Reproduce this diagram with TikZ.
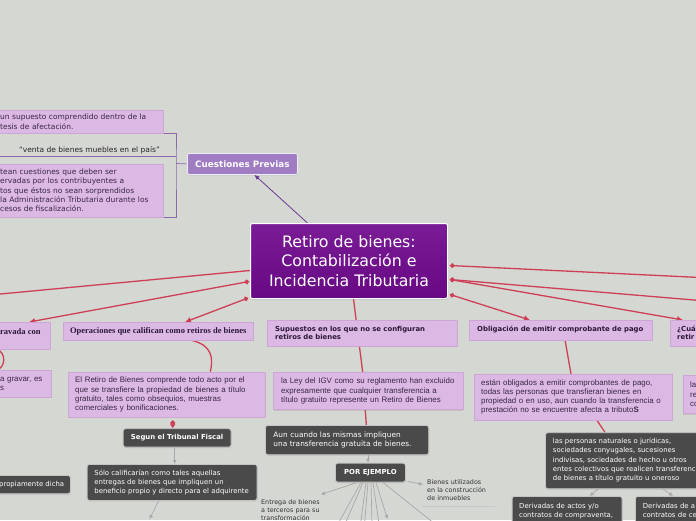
\documentclass[tikz,border=0pt]{standalone}
\usepackage{fontspec}
\setmainfont{DejaVu Sans}
\newfontfamily\arialf{Liberation Sans}
\newfontfamily\serifb{Liberation Serif}
\usetikzlibrary{arrows.meta,shadows}
\pgfdeclarelayer{bgl}\pgfdeclarelayer{lines}\pgfsetlayers{bgl,lines,main}
\definecolor{bgc}{HTML}{D5D7D3}
\definecolor{pinkc}{HTML}{DCB9E4}
\definecolor{pinkd}{HTML}{CDA6D6}
\definecolor{pkt}{HTML}{3A2645}
\definecolor{hdt}{HTML}{2B1838}
\definecolor{redc}{HTML}{CF3F55}
\definecolor{brkc}{HTML}{8C68AC}
\definecolor{pcl}{HTML}{6A3A94}
\definecolor{grayc}{HTML}{A8A8A8}
\definecolor{darkc}{HTML}{4A4A4A}
\definecolor{darkd}{HTML}{C4C4C4}
\definecolor{cpc}{HTML}{A07DC3}
\definecolor{cenT}{HTML}{7A1C96}
\definecolor{cenB}{HTML}{680884}
\newcommand\fcen{\fontsize{15.8}{19.6}\selectfont}
\newcommand\fcp{\bfseries\fontsize{8.8}{10}\selectfont}
\newcommand\fvt{\fontsize{7.5}{9.4}\selectfont}
\newcommand\fpk{\arialf\fontsize{7.9}{9.1}\selectfont}
\newcommand\fhs{\serifb\bfseries\fontsize{8.5}{10}\selectfont}
\newcommand\fhb{\bfseries\fontsize{6.9}{8.4}\selectfont}
\newcommand\fdk{\fontsize{6.9}{9.1}\selectfont}
\newcommand\fdb{\bfseries\fontsize{6.9}{8.4}\selectfont}
\newcommand\fsm{\fontsize{6.4}{8.2}\selectfont}
\begin{document}
\begin{tikzpicture}[x=1pt,y=-1pt,
  pinkbox/.style={fill=pinkc, draw=pinkd, line width=0.4pt, anchor=north west, inner ysep=0pt, inner xsep=0pt,
    drop shadow={shadow xshift=0.3pt,shadow yshift=-1.1pt,opacity=0.22}},
  darkbox/.style={fill=darkc, draw=darkd, line width=0.8pt, rounded corners=2.5pt, anchor=north west,
    inner ysep=0pt, inner xsep=0pt, text=white, drop shadow={shadow xshift=0.4pt,shadow yshift=-1pt,opacity=0.3}},
  ptxt/.style={inner sep=0pt, align=left, text=pkt},
  redl/.style={draw=redc, line width=1.3pt},
  rarr/.style={redl, {Circle[length=4.6pt]}-{Latex[length=6pt,width=6pt]}},
  garr/.style={draw=grayc, line width=0.7pt, -{Latex[length=4pt,width=4pt]}},
  gl/.style={draw=grayc, line width=0.7pt},
  brk/.style={draw=brkc, line width=0.7pt}
]
\useasboundingbox (0,0) rectangle (696,520);
\begin{pgfonlayer}{bgl}
\fill[bgc] (0,0) rectangle (696,520);
\end{pgfonlayer}

% ---------- top left ----------
\node[pinkbox, minimum width=203pt, minimum height=23pt] (b1) at (-40,110) {};
\node[ptxt, anchor=west, text width=180pt, font=\fvt] (b1t) at (0,121.7) {un supuesto comprendido dentro de la\\tesis de afectación.};
\node[inner sep=0pt, anchor=west, font=\fvt, text=black!85] (vq) at (19,150) {“venta de bienes muebles en el país”};
\coordinate (ul) at (0,156);
\coordinate (bk) at (176,163.5);
\node[pinkbox, minimum width=203pt, minimum height=52.5pt] (b3) at (-40,164) {};
\node[ptxt, anchor=west, text width=180pt, font=\fvt] (b3t) at (0,190.3) {tean cuestiones que deben ser\\ervadas por los contribuyentes a\\tos que éstos no sean sorprendidos\\la Administración Tributaria durante los\\cesos de fiscalización.};

\node[anchor=north west, minimum width=110pt, minimum height=21pt, inner sep=0pt, fill=cpc, draw=white!85!cpc,
  line width=0.8pt, rounded corners=2pt, text=white, font=\fcp,
  drop shadow={shadow xshift=0.4pt,shadow yshift=-1pt,opacity=0.3}] (cp) at (187,153) {Cuestiones Previas};

% ---------- central ----------
\node[anchor=north west, minimum width=197pt, minimum height=75pt, inner sep=0pt, top color=cenT, bottom color=cenB,
  draw=white, line width=1pt, rounded corners=2pt, text=white, align=center, font=\fcen,
  drop shadow={shadow xshift=0.5pt,shadow yshift=-1pt,opacity=0.3}] (c) at (250,223)
  {Retiro de bienes:\\Contabilización e\\Incidencia Tributaria};

% ---------- header row ----------
\node[pinkbox, minimum width=110pt, minimum height=27pt] (h0) at (-60,322) {};
\node[inner sep=0pt, anchor=west, font=\fhs, text=hdt] (h0t) at (0,331.5) {ravada con};
\node[pinkbox, minimum width=190pt, minimum height=18pt, font=\fhs, text=hdt] (h1) at (63,322) {Operaciones que califican como retiros de bienes};
\node[pinkbox, minimum width=190pt, minimum height=26pt, inner xsep=8pt, text width=174pt, align=left, font=\fhb, text=hdt] (h2) at (267,320) {Supuestos en los que no se configuran\\retiros de bienes};
\node[pinkbox, minimum width=183pt, minimum height=19.5pt, inner xsep=8pt, text width=167pt, align=left, font=\fhb, text=hdt] (h3) at (469,320) {Obligación de emitir comprobante de pago};
\node[pinkbox, minimum width=90pt, minimum height=26pt] (h4) at (670,320) {};
\node[inner sep=0pt, anchor=west, text width=40pt, align=left, font=\fhb, text=hdt] (h4t) at (677,333) {¿Cuá\\retir};

% ---------- second row ----------
\node[pinkbox, minimum width=111pt, minimum height=27pt] (p0) at (-60,370) {};
\node[ptxt, anchor=west, text width=60pt, font=\fpk] (p0t) at (0,383.8) {a gravar, es\\s};
\node[pinkbox, minimum width=197.3pt, minimum height=45.3pt, inner xsep=7.3pt, text width=182.7pt, align=left, font=\fpk, text=pkt] (p1) at (67.7,371.7)
  {El Retiro de Bienes comprende todo acto por el\\que se transfiere la propiedad de bienes a título\\gratuito, tales como obsequios, muestras\\comerciales y bonificaciones.};
\node[pinkbox, minimum width=189.4pt, minimum height=37pt, inner xsep=6pt, text width=177.4pt, align=left, font=\fpk, text=pkt] (p2) at (273.3,372.3)
  {\hspace*{1.5pt}la Ley del IGV como su reglamento han excluido\\\hspace*{1.5pt}expresamente que cualquier transferencia a\\\hspace*{1.5pt}título gratuito represente un Retiro de Bienes};
\node[pinkbox, minimum width=197.7pt, minimum height=46pt, inner xsep=7pt, text width=183.7pt, align=left, font=\fpk, text=pkt] (p3) at (474,374)
  {están obligados a emitir comprobantes de pago,\\todas las personas que transfieran bienes en\\propiedad o en uso, aun cuando la transferencia o\\prestación no se encuentre afecta a tributo\textbf{S}};
\node[pinkbox, minimum width=80pt, minimum height=38.3pt] (p4) at (682.7,375) {};
\node[ptxt, anchor=west, text width=20pt, font=\fpk] (p4t) at (690,394.2) {la\\re\\co};

% ---------- dark boxes ----------
\node[darkbox, minimum width=130pt, minimum height=18.3pt] (d0) at (-60,475) {};
\node[inner sep=0pt, anchor=west, font=\fdk, text=white] (d0t) at (-1,484.2) {propiamente dicha};
\node[darkbox, minimum width=108pt, minimum height=18.4pt, font=\fdb] (d1) at (122.7,428.3) {Segun el Tribunal Fiscal};
\node[darkbox, minimum width=170pt, minimum height=36pt, inner xsep=6pt, text width=158pt, align=left, font=\fdk] (d2) at (86.7,464)
  {\hspace*{1.3pt}Sólo calificarían como tales aquellas\\\hspace*{1.3pt}entregas de bienes que impliquen un\\\hspace*{1.3pt}beneficio propio y directo para el adquirente};
\node[darkbox, minimum width=163.3pt, minimum height=29.3pt, inner xsep=8pt, text width=147.3pt, align=left, font=\fontsize{7.4}{9}\selectfont] (d3) at (265,425)
  {Aun cuando las mismas impliquen\\una transferencia gratuita de bienes.};
\node[darkbox, minimum width=70pt, minimum height=19pt, font=\fdb] (d4) at (335,462.7) {POR EJEMPLO};
\node[darkbox, minimum width=215pt, minimum height=56pt] (d5) at (545,432.3) {};
\node[inner sep=0pt, anchor=west, text width=200pt, align=left, font=\fdk, text=white] (d5t) at (552.7,460)
  {las personas naturales o jurídicas,\\sociedades conyugales, sucesiones\\indivisas, sociedades de hecho u otros\\entes colectivos que realicen transferencias\\de bienes a título gratuito u oneroso};
\node[darkbox, minimum width=110pt, minimum height=40pt] (d6) at (511.7,496) {};
\node[inner sep=0pt, anchor=base west, text width=100pt, align=left, font=\fdk, text=white] (d6t) at (519,508.4)
  {Derivadas de actos y/o\\contratos de compraventa,};
\node[darkbox, minimum width=120pt, minimum height=40pt] (d7) at (635,496) {};
\node[inner sep=0pt, anchor=base west, text width=60pt, align=left, font=\fdk, text=white] (d7t) at (642.7,508.4)
  {Derivadas de a\\contratos de ce};

% ---------- plain texts ----------
\node[inner sep=0pt, anchor=base west, text width=68pt, align=left, font=\fsm, text=black!80] (t1) at (427,484.5)
  {Bienes utilizados\\en la construcción\\de inmuebles};
\node[inner sep=0pt, anchor=base west, text width=64pt, align=left, font=\fsm, text=black!80] (t2) at (261,504.5)
  {Entrega de bienes\\a terceros para su\\transformación};

% ---------- connectors ----------
\coordinate (fl) at (-5,294.5);
\coordinate (fr1) at (700,277.5);
\coordinate (fr2) at (700,300.5);
\coordinate (gd) at (149.5,519);
\coordinate (f1) at (338,524);
\coordinate (f2) at (345,524);
\coordinate (f3) at (360.5,524);
\coordinate (f4) at (364.5,524);
\coordinate (f5) at (372,524);
\coordinate (f6) at (379,524);
\coordinate (f7) at (387.5,519);
\coordinate (f8) at (435,524);
\begin{pgfonlayer}{lines}
% bracket
\draw[brk] (b1.south east) -| (bk) |- (b3.south east);
\draw[brk] (ul) -- (ul -| bk);
\draw[brk] (bk) -- (cp.west);
\draw[draw=pcl, line width=0.8pt, -{Latex[length=5pt,width=4.5pt]}] ([xshift=-41.5pt]c.north) -- ([xshift=12pt]cp.south);
% red from central
\draw[redl] ([yshift=-9.5pt]c.west) -- (fl);
\draw[rarr] ([xshift=-1pt,yshift=-20.5pt]c.west) -- ([xshift=89pt]h0.north west);
\draw[rarr] ([xshift=-2pt,yshift=1pt]c.south west) -- ([xshift=122pt]h1.north west);
\draw[redl, {Circle[length=4.6pt]}-] ([xshift=2pt,yshift=-4.5pt]c.east) -- (fr1);
\draw[redl, {Circle[length=4.6pt]}-] ([xshift=2pt,yshift=-18.5pt]c.east) -- (fr2);
\draw[rarr] ([xshift=2pt,yshift=-18.5pt]c.east) -- ([xshift=13pt]h4.north west);
\draw[rarr] ([xshift=2pt,yshift=-33.5pt]c.east) -- ([xshift=61pt]h3.north west);
\draw[redl] ([xshift=4.5pt]c.south) -- ([xshift=-5.5pt]p2.north);
\draw[redl] ([xshift=-3pt]p2.south) -- ([xshift=19.3pt]d3.north);
\draw[redl] ([xshift=129pt]h1.south west) .. controls +(20,5) and +(3,-14) .. ([xshift=-55pt]p1.north east);
\draw[redl] ([xshift=57pt]h0.south west) .. controls +(9,3) and +(9,-3) .. ([xshift=57pt]p0.north west);
\draw[redl] ([xshift=96pt]h3.south west) -- ([xshift=97pt]p3.north west);
\draw[redl] ([xshift=123pt]p3.south west) -- ([xshift=60pt]d5.north west);
\draw[redl, {Circle[length=5pt]}-{Latex[length=4pt,width=6pt]}] ([xshift=105pt,yshift=-3pt]p1.south west) -- ([xshift=50pt]d1.north west);
% gray
\draw[garr] ([xshift=52pt]d1.south west) -- ([xshift=88pt]d2.north west);
\draw[garr] ([xshift=72pt]d2.south west) -- (gd);
\draw[garr] ([xshift=103pt]d3.south west) -- ([xshift=33pt]d4.north west);
\draw[garr] ([xshift=2pt,yshift=1pt]d4.south east) -- ([xshift=-4pt,yshift=-5pt]t1.north west);
\draw[garr] ([xshift=22pt]d4.south west) -- ([xshift=60pt,yshift=5pt]t2.north west);
\draw[gl] ([xshift=26pt]d4.south west) -- (f1);
\draw[gl] ([xshift=28pt]d4.south west) -- (f2);
\draw[gl] ([xshift=31pt]d4.south west) -- (f3);
\draw[gl] ([xshift=33pt]d4.south west) -- (f4);
\draw[gl] ([xshift=36pt]d4.south west) -- (f5);
\draw[gl] ([xshift=38pt]d4.south west) -- (f6);
\draw[garr] ([xshift=41pt]d4.south west) -- (f7);
\draw[gl] ([xshift=48pt]d4.south west) -- (f8);
\draw[draw=black!22, line width=0.9pt] ([xshift=-5pt,yshift=-5pt]t1.south west) -- ([xshift=0pt,yshift=-5pt]t1.south east);
\draw[garr] ([xshift=53pt]d5.south west) -- ([xshift=78pt]d6.north west);
\draw[garr] ([xshift=118pt]d5.south west) -- ([xshift=38pt]d7.north west);
\end{pgfonlayer}
\end{tikzpicture}
\end{document}
